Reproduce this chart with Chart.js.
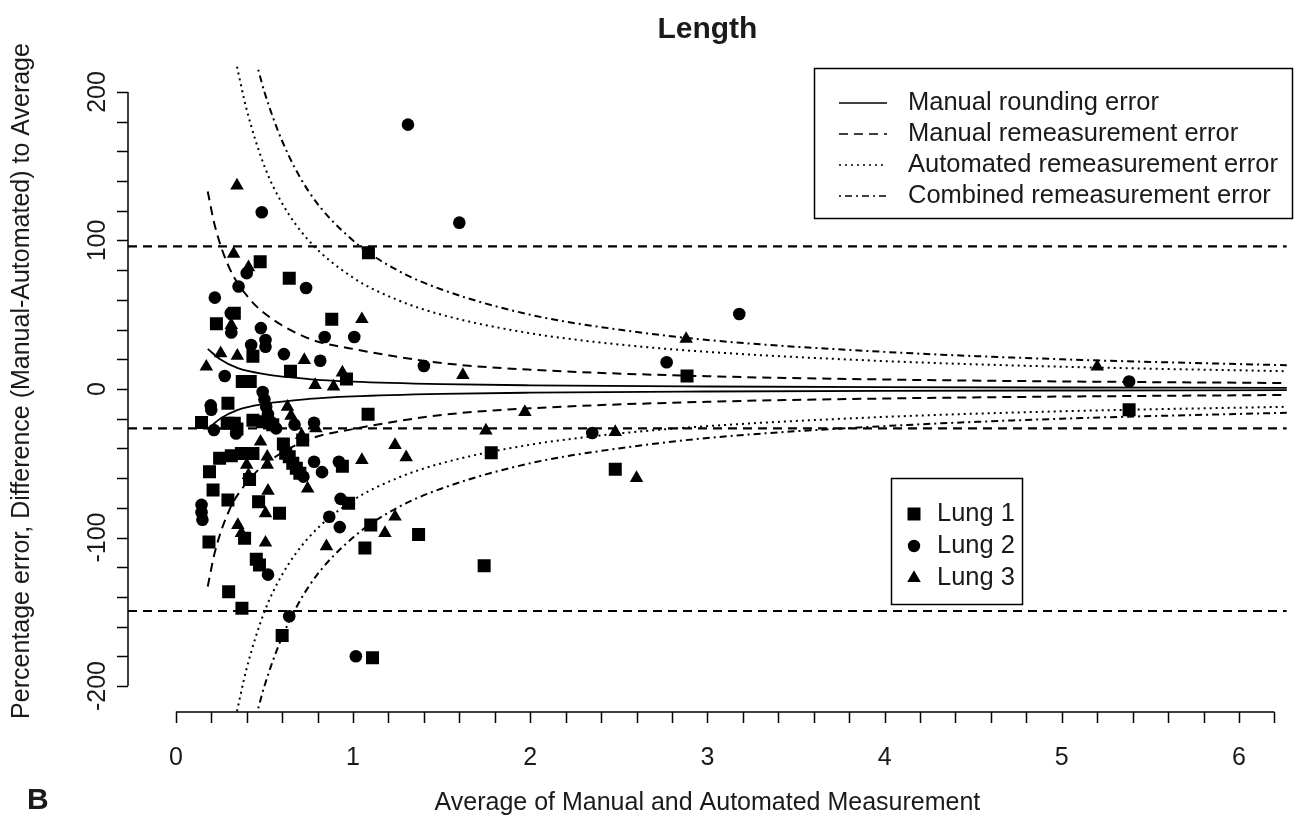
<!DOCTYPE html>
<html>
<head>
<meta charset="utf-8">
<script src="https://cdn.jsdelivr.net/npm/chart.js@4.4.1/dist/chart.umd.min.js"></script>
<style>
  html, body { margin: 0; padding: 0; background: #fff; }
  #wrap { width: 1296px; height: 820px; }
</style>
</head>
<body>
<div id="wrap"><canvas id="grafico" width="1296" height="820"></canvas></div>
<script>
// Lung 1 (squares)
const lung1X = [0.145, 0.187, 0.19, 0.21, 0.229, 0.247, 0.29, 0.294, 0.294, 0.298, 0.313, 0.33, 0.33, 0.345, 0.37, 0.373, 0.375, 0.388, 0.416, 0.42,
  0.435, 0.435, 0.435, 0.454, 0.467, 0.472, 0.476, 0.49, 0.547, 0.585, 0.60, 0.607, 0.62, 0.64, 0.64, 0.647, 0.66, 0.68, 0.70, 0.716,
  0.88, 0.94, 0.963, 0.975, 1.067, 1.085, 1.087, 1.10, 1.11, 1.37, 1.74, 1.78, 2.48, 2.885, 5.38];
const lung1Y = [-22.5, -103, -55.7, -68, 44, -46.7, -23, -9.6, -74.7, -136.5, -45, 51, -23, -27, -43.5, -147.7, 5, -100.5, -61, 5,
  22, -43.5, -21, -114.7, -76, -118.5, 85.7, -22, -24, -83.7, -166, -37, -43.3, 74.5, -45.6, 12, -50, -53.4, -56.8, -34.3,
  47, -52, 6.7, -77, -107, -17, 91.8, -91.6, -181, -98, -119, -43, -54, 8.8, -14];

// Lung 2 (circles)
const lung2X = [0.145, 0.145, 0.15, 0.197, 0.2, 0.215, 0.22, 0.276, 0.31, 0.313, 0.34, 0.354, 0.40, 0.425, 0.48, 0.485, 0.49, 0.50, 0.506, 0.506,
  0.51, 0.52, 0.52, 0.535, 0.566, 0.61, 0.64, 0.67, 0.72, 0.735, 0.78, 0.78, 0.815, 0.825, 0.84, 0.866, 0.92, 0.925, 0.93, 1.007,
  1.016, 1.31, 1.40, 1.60, 2.35, 2.77, 3.18, 5.38];
const lung2Y = [-78, -83, -88, -11, -14, -27.6, 61.5, 8.8, 51, 38, -30, 69, 78, 29.6, 41, 119, -2, -7, 33, 28.5,
  -12, -17, -125, -22, -26.5, 23.5, -153, -24, -59, 68, -22.7, -49, 19, -56, 35, -86, -49, -93, -74, 35,
  -180, 178, 15.5, 112, -29.6, 18, 50.5, 5];

// Lung 3 (triangles)
const lung3X = [0.172, 0.253, 0.313, 0.326, 0.345, 0.347, 0.35, 0.37, 0.40, 0.41, 0.41, 0.478, 0.506, 0.506, 0.516, 0.516, 0.52, 0.63, 0.65, 0.71,
  0.725, 0.744, 0.786, 0.79, 0.85, 0.89, 0.94, 1.05, 1.05, 1.18, 1.237, 1.237, 1.30, 1.62, 1.75, 1.97, 2.48, 2.60, 2.88, 5.2];
const lung3Y = [15, 24, 43, 91, 137, 22.4, -91.6, -97, -51, 82, -58, -35.5, -83.7, -103.5, -45.6, -51, -68.5, -12, -18, -31,
  19.5, -67, 2.7, -26.5, -106, 1.6, 11, 47, -47.8, -97, -37.7, -86, -46, 9.4, -28, -15.5, -29, -60, 33.7, 15];

// error curves (upper / lower)
const manualRoundX = [0.18, 0.25, 0.35, 0.5, 0.75, 1, 1.5, 2, 3, 4, 5, 6.3];
const manualRoundUp = [27, 20, 14, 10, 6.7, 5, 3.3, 2.5, 1.7, 1.2, 1, 0.8];
const manualRoundLo = [-27, -20, -14, -10, -6.7, -5, -3.3, -2.5, -1.7, -1.2, -1, -0.8];

const manualRemeasX = [0.18, 0.22, 0.3, 0.4, 0.5, 0.75, 1, 1.5, 2, 3, 4, 5, 6.3];
const manualRemeasUp = [133, 110, 82, 63, 51, 34, 27, 17.5, 13, 8.6, 6.4, 5.1, 4];
const manualRemeasLo = [-133, -110, -82, -63, -51, -34, -27, -17.5, -13, -8.6, -6.4, -5.1, -4];

const autoRemeasX = [0.345, 0.4, 0.5, 0.6, 0.75, 1, 1.25, 1.5, 2, 2.5, 3, 4, 5, 6.3];
const autoRemeasUp = [217, 188, 150, 125, 100, 75, 60, 50, 37.5, 30, 25, 18.8, 15, 11.9];
const autoRemeasLo = [-217, -188, -150, -125, -100, -75, -60, -50, -37.5, -30, -25, -18.8, -15, -11.9];

const combinedX = [0.465, 0.5, 0.6, 0.75, 1, 1.25, 1.5, 2, 2.5, 3, 4, 5, 6.3];
const combinedUp = [215, 200, 167, 133, 100, 80, 67, 50, 40, 33, 25, 20, 15.9];
const combinedLo = [-215, -200, -167, -133, -100, -80, -67, -50, -40, -33, -25, -20, -15.9];

// mean difference and limits of agreement
const meanDiff = -26.5;
const upperLoA = 96;
const lowerLoA = -149.5;

// axes
const xTickLabels = [0, 1, 2, 3, 4, 5, 6];
const yTickLabels = [-200, -100, 0, 100, 200];
const xMinorStep = 0.2, xMinorLast = 6.2;
const yMinorStep = 20;
const xRange = [-0.27, 6.27];
const yRange = [-217.5, 217.5];

const legendLines = ['Manual rounding error', 'Manual remeasurement error', 'Automated remeasurement error', 'Combined remeasurement error'];
const legendLungs = ['Lung 1', 'Lung 2', 'Lung 3'];

const FONT = '"Liberation Sans", Arial, Helvetica, sans-serif';
const TXT = '#1a1a1a';

const pts = (xs, ys) => xs.map((v, i) => ({ x: v, y: ys[i] }));
const hline = v => [{ x: xRange[0], y: v }, { x: xRange[1], y: v }];

const DASH = [9, 6];
const DOT = [2, 4];
const DOTDASH = [2, 4, 7, 4];

function curve(xs, ys, dash, w) {
  return {
    type: 'line', data: pts(xs, ys), borderColor: '#000', borderWidth: w, borderDash: dash,
    pointRadius: 0, fill: false, cubicInterpolationMode: 'monotone', showLine: true
  };
}
function lim(v) {
  return { type: 'line', data: hline(v), borderColor: '#000', borderWidth: 2.2, borderDash: DASH, pointRadius: 0, fill: false };
}
function marks(xs, ys, style, r) {
  return { type: 'scatter', data: pts(xs, ys), pointStyle: style, pointRadius: r, pointHoverRadius: r,
    backgroundColor: '#000', borderColor: '#000', borderWidth: 0 };
}

const rAxes = {
  id: 'rAxes',
  afterDraw(chart) {
    const { ctx, chartArea: a, scales: { x, y } } = chart;
    ctx.save();
    ctx.strokeStyle = '#000';
    ctx.lineWidth = 1.5;

    // x axis
    const xb = a.bottom;
    ctx.beginPath();
    ctx.moveTo(x.getPixelForValue(0), xb);
    ctx.lineTo(x.getPixelForValue(xMinorLast), xb);
    for (let v = 0; v <= xMinorLast + 1e-9; v += xMinorStep) {
      const px = Math.round(x.getPixelForValue(v)) + 0.5;
      ctx.moveTo(px, xb);
      ctx.lineTo(px, xb + 11);
    }
    ctx.stroke();

    // y axis
    const yl = a.left;
    ctx.beginPath();
    ctx.moveTo(yl, y.getPixelForValue(yTickLabels[0]));
    ctx.lineTo(yl, y.getPixelForValue(yTickLabels[yTickLabels.length - 1]));
    for (let v = yTickLabels[0]; v <= yTickLabels[yTickLabels.length - 1]; v += yMinorStep) {
      const py = Math.round(y.getPixelForValue(v)) + 0.5;
      ctx.moveTo(yl, py);
      ctx.lineTo(yl - 11, py);
    }
    ctx.stroke();

    ctx.fillStyle = TXT;
    ctx.font = '25px ' + FONT;
    ctx.textAlign = 'center';
    ctx.textBaseline = 'middle';
    xTickLabels.forEach(v => ctx.fillText(String(v), x.getPixelForValue(v), xb + 46));
    yTickLabels.forEach(v => {
      ctx.save();
      ctx.translate(yl - 30, y.getPixelForValue(v));
      ctx.rotate(-Math.PI / 2);
      ctx.fillText(String(v), 0, 0);
      ctx.restore();
    });

    // axis titles
    ctx.fillText('Average of Manual and Automated Measurement', (a.left + a.right) / 2, 803);
    ctx.save();
    ctx.translate(22, 381);
    ctx.rotate(-Math.PI / 2);
    ctx.fillText('Percentage error, Difference (Manual-Automated) to Average', 0, 0);
    ctx.restore();

    // title and panel letter
    ctx.font = 'bold 30px ' + FONT;
    ctx.fillText('Length', (a.left + a.right) / 2, 30);
    ctx.textAlign = 'left';
    ctx.fillText('B', 27, 801);

    // legend 1: error curves
    ctx.lineWidth = 1.5;
    ctx.strokeRect(814.5, 68.5, 478, 150);
    const dashes = [[], DASH, DOT, DOTDASH];
    ctx.font = '25.5px ' + FONT;
    legendLines.forEach((t, i) => {
      const ry = 103 + i * 31;
      ctx.setLineDash(dashes[i]);
      ctx.lineWidth = 1.5;
      ctx.beginPath();
      ctx.moveTo(839, ry);
      ctx.lineTo(887, ry);
      ctx.stroke();
      ctx.setLineDash([]);
      ctx.fillText(t, 908, ry);
    });

    // legend 2: lungs
    ctx.strokeRect(891.5, 478.5, 131, 126);
    legendLungs.forEach((t, i) => {
      const ry = 514 + i * 32;
      const mx = 914;
      ctx.beginPath();
      if (i === 0) ctx.rect(mx - 6.5, ry - 6.5, 13, 13);
      else if (i === 1) ctx.arc(mx, ry, 6.2, 0, Math.PI * 2);
      else { ctx.moveTo(mx, ry - 7.8); ctx.lineTo(mx + 6.8, ry + 3.9); ctx.lineTo(mx - 6.8, ry + 3.9); ctx.closePath(); }
      ctx.fillStyle = '#000';
      ctx.fill();
      ctx.fillStyle = TXT;
      ctx.fillText(t, 937, ry);
    });
    ctx.restore();
  }
};

const ctx = document.getElementById('grafico').getContext('2d');
const grafico = new Chart(ctx, {
  type: 'scatter',
  data: {
    datasets: [
      marks(lung1X, lung1Y, 'rect', 9.2),
      marks(lung2X, lung2Y, 'circle', 6.3),
      marks(lung3X, lung3Y, 'triangle', 7.8),
      curve(manualRoundX, manualRoundUp, [], 1.8),
      curve(manualRoundX, manualRoundLo, [], 1.8),
      curve(manualRemeasX, manualRemeasUp, DASH, 2),
      curve(manualRemeasX, manualRemeasLo, DASH, 2),
      curve(autoRemeasX, autoRemeasUp, DOT, 2),
      curve(autoRemeasX, autoRemeasLo, DOT, 2),
      curve(combinedX, combinedUp, DOTDASH, 2),
      curve(combinedX, combinedLo, DOTDASH, 2),
      lim(upperLoA),
      lim(meanDiff),
      lim(lowerLoA)
    ]
  },
  options: {
    responsive: false,
    animation: false,
    devicePixelRatio: 1,
    layout: { padding: { left: 128, right: 5, top: 66, bottom: 108 } },
    plugins: { legend: { display: false }, tooltip: { enabled: false } },
    scales: {
      x: { type: 'linear', min: xRange[0], max: xRange[1], display: false },
      y: { type: 'linear', min: yRange[0], max: yRange[1], display: false }
    }
  },
  plugins: [rAxes]
});
</script>
</body>
</html>
